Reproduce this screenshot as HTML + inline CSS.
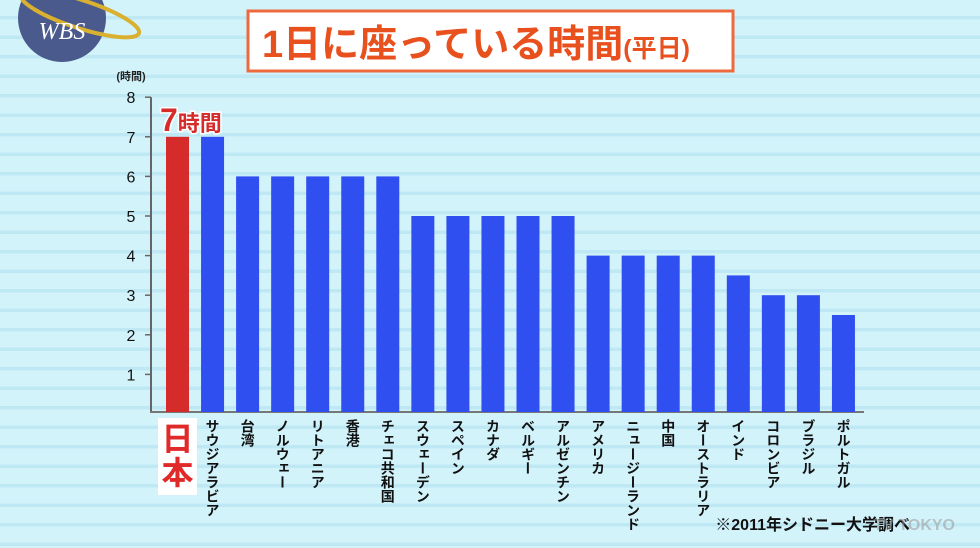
<!DOCTYPE html>
<html><head><meta charset="utf-8">
<style>
body{margin:0;width:980px;height:548px;overflow:hidden;font-family:"Liberation Sans","Noto Sans CJK JP",sans-serif;}
#bg{position:absolute;left:0;top:0;width:980px;height:548px;background:repeating-linear-gradient(180deg,#d3f3fb 0px,#d3f3fb 16px,#bfe8f5 16px,#bfe8f5 19.5px);}
</style></head>
<body>
<div id="bg"></div>
<svg width="980" height="548" style="position:absolute;left:0;top:0">
 <g>
  <circle cx="62" cy="18" r="44" fill="#4a5a8c"/>
  <ellipse cx="80" cy="14" rx="62" ry="14" fill="none" stroke="#d9b030" stroke-width="4" transform="rotate(18 80 14)"/>
  <text x="62" y="39" text-anchor="middle" font-family="Liberation Serif,serif" font-style="italic" font-size="24" fill="#fff">WBS</text>
 </g>
 <g>
  <rect x="248" y="11" width="485" height="60" fill="#fff" stroke="#ee6a3c" stroke-width="3"/>
  <text x="262" y="57" font-size="38" font-weight="bold" fill="#e8501e" font-family="Liberation Sans,Noto Sans CJK JP,sans-serif">1日に座っている時間<tspan font-size="25">(平日)</tspan></text>
 </g>
 <text x="131" y="80" text-anchor="middle" font-size="11" font-weight="bold" fill="#222">(時間)</text>
 <g id="axis"></g>
 <g id="bars"></g>
 <g id="labels"></g>
 <text x="910" y="530" text-anchor="end" font-size="16" font-weight="bold" fill="#111">※2011年シドニー大学調べ</text>
 <text x="955" y="530" text-anchor="end" font-size="16" font-weight="bold" fill="#999" opacity="0.55">TV TOKYO</text>
</svg>
<script>
const categories=["日本","サウジアラビア","台湾","ノルウェー","リトアニア","香港","チェコ共和国","スウェーデン","スペイン","カナダ","ベルギー","アルゼンチン","アメリカ","ニュージーランド","中国","オーストラリア","インド","コロンビア","ブラジル","ポルトガル"];
const values=[7,7,6,6,6,6,6,5,5,5,5,5,4,4,4,4,3.5,3,3,2.5];
const yTicks=[1,2,3,4,5,6,7,8];
const NS="http://www.w3.org/2000/svg";
const y0=414, yUnit=39.6;
function yPos(v){return y0-v*yUnit;}
function xPos(i){return 166+i*35.05;}
function mk(tag,attrs,parent){const e=document.createElementNS(NS,tag);for(const k in attrs)e.setAttribute(k,attrs[k]);parent.appendChild(e);return e;}
const ax=document.getElementById('axis'),bars=document.getElementById('bars'),lab=document.getElementById('labels');
const yl=mk('line',{x1:151,x2:151,y1:yPos(8),y2:y0-2,stroke:'#666','stroke-width':2},ax);


const xl=mk('line',{x1:150,x2:864,y1:y0-2,y2:y0-2,stroke:'#777','stroke-width':2},ax);


yTicks.forEach(t=>{
 const y=yPos(t);
 mk('line',{x1:145,x2:151,y1:y,y2:y,stroke:'#666','stroke-width':1.5},ax);
 const tx=mk('text',{x:131,y:y+6,'text-anchor':'middle','font-size':16,fill:'#111'},ax);
 tx.textContent=t;
 
 
});
values.forEach((v,i)=>{
 const x=xPos(i);
 const r=mk('rect',{x:x,y:yPos(v),width:23,height:y0-2-yPos(v),fill:i===0?'#d62b2b':'#2f4ff0'},bars);
 
 
 if(i===0){
  mk('rect',{x:x-8,y:418,width:39,height:77,fill:'#fff'},lab);
  const t=mk('text',{x:x+11.5,'text-anchor':'middle',fill:'#e02a2a','font-size':32,'font-weight':'bold'},lab);
  t.innerHTML='<tspan x="'+(x+11.5)+'" y="450">日</tspan><tspan x="'+(x+11.5)+'" y="484">本</tspan>';
  
  
  const c=mk('text',{x:x-6,y:yPos(v)-6,fill:'#d62b2b','font-size':22,'font-weight':'bold',stroke:'#fff','stroke-width':3,'paint-order':'stroke'},lab);
  c.innerHTML='<tspan font-size="32">'+v+'</tspan>時間';
  
  
 } else {
  const t=mk('text',{x:x+11.5,y:419,'writing-mode':'vertical-rl','font-size':14,'font-weight':'bold',fill:'#111','text-anchor':'start'},lab);
  t.textContent=categories[i];
  
  
 }
});
</script>
</body></html>
